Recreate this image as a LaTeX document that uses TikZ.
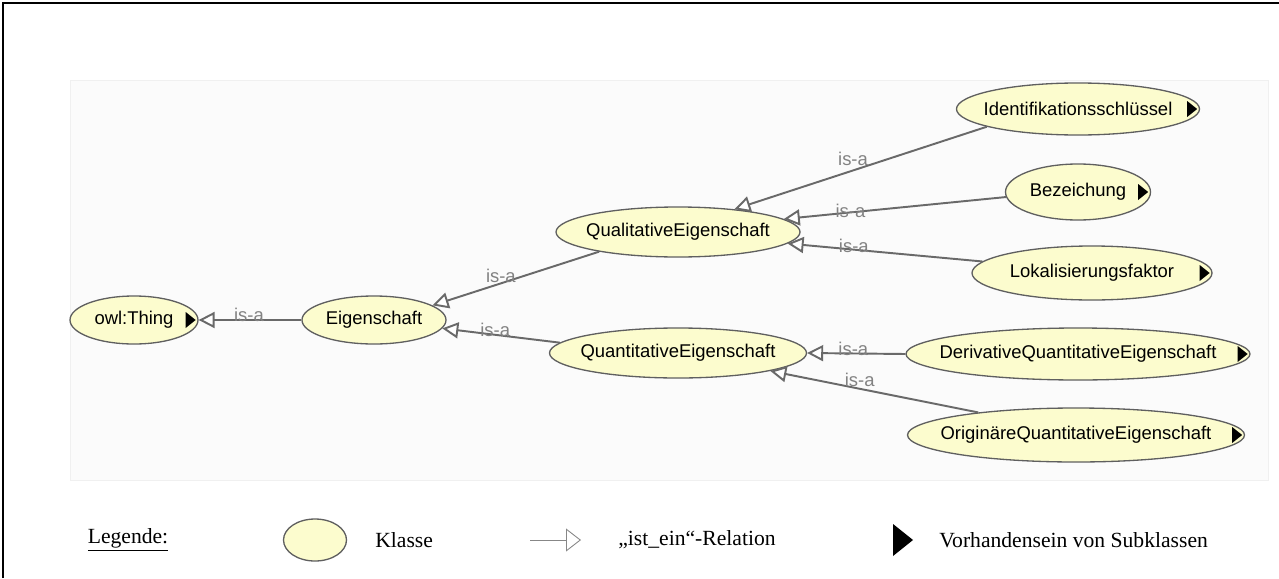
\documentclass[tikz,border=0pt]{standalone}
\usepackage{fontspec}
\setmainfont{Liberation Serif}
\setsansfont{Liberation Sans}
\usetikzlibrary{shapes.geometric,arrows.meta}
\definecolor{klassfill}{RGB}{252,252,206}
\definecolor{klassline}{RGB}{95,95,95}
\definecolor{isaline}{RGB}{105,105,105}
\definecolor{isatext}{RGB}{130,130,130}
\definecolor{panel}{RGB}{251,251,251}
% kleines Dreieck: Klasse hat Subklassen
\newcommand{\subtri}[1]{\fill (#1.east) ++(-13,-8) -- ++(0,16) -- ++(10,-8) -- cycle;}
% Klassenname ohne Einfluss auf die Ellipsengroesse
\newcommand{\kl}[1]{\makebox[0pt]{#1}}

\begin{document}
\begin{tikzpicture}[x=0.2mm, y=-0.2mm,
  cls/.style={ellipse, draw=klassline, fill=klassfill, line width=0.75pt, inner sep=0pt,
    font=\sffamily\fontsize{10.5}{12}\selectfont},
  isa/.style={draw=isaline, line width=1.1pt,
    -{Triangle[open, fill=white, length=3.2mm, width=3.2mm]}},
  lbl/.style={text=isatext, font=\sffamily\fontsize{10.5}{12}\selectfont, inner sep=0pt,
    anchor=base},
  leg/.style={font=\fontsize{12.3}{14}\selectfont, inner sep=0pt}]
\useasboundingbox (0,0) rectangle (1279,578);
\draw[line width=1.1pt] (3,578)--(3,3)--(1279,3);
\draw[draw=black!6, fill=panel] (70,80) rectangle (1268,480);

% Klassen
\node[cls, minimum width=25.6mm, minimum height=9.6mm] (thing) at (134,320) {\kl{owl:Thing}};
\node[cls, minimum width=28.8mm, minimum height=9.6mm] (eig) at (374,320) {\kl{Eigenschaft}};
\node[cls, minimum width=48.8mm, minimum height=10mm] (qual) at (678,232) {\kl{QualitativeEigenschaft}};
\node[cls, minimum width=51.4mm, minimum height=10mm] (quant) at (678,353) {\kl{QuantitativeEigenschaft}};
\node[cls, minimum width=48.6mm, minimum height=10.4mm] (ident) at (1078,109) {\kl{Identifikationsschlüssel}};
\node[cls, minimum width=29mm, minimum height=11.2mm] (bez) at (1078,192) {\kl{Bezeichung}};
\node[cls, minimum width=48mm, minimum height=10.8mm] (lok) at (1092,273) {\kl{Lokalisierungsfaktor}};
\node[cls, minimum width=68.8mm, minimum height=10.4mm] (deriv) at (1078,354) {\kl{DerivativeQuantitativeEigenschaft}};
\node[cls, minimum width=67.4mm, minimum height=10.8mm] (orig) at (1076,435) {\kl{OriginäreQuantitativeEigenschaft}};

\subtri{thing}
\subtri{ident}
\subtri{bez}
\subtri{lok}
\subtri{deriv}
\subtri{orig}

% is-a Kanten
\draw[isa] (eig.180) -- node[lbl, pos=.51, yshift=-.2mm]{is-a} (thing.0);
\draw[isa] (qual.194.5) -- node[lbl, pos=.59, yshift=.2mm]{is-a} (eig.14.5);
\draw[isa] (quant.175.6) -- node[lbl, pos=.55, yshift=-.4mm]{is-a} (eig.353.6);
\draw[isa] (ident.191.3) -- node[lbl, pos=.53, yshift=1mm]{is-a} (qual.22);
\draw[isa] (bez.184) -- node[lbl, pos=.70, yshift=-1mm]{is-a} (qual.7.3);
\draw[isa] (lok.174.6) -- node[lbl, pos=.66, yshift=-.6mm]{is-a} (qual.354.9);
\draw[isa] (deriv.180) -- node[lbl, pos=.53, yshift=-.4mm]{is-a} (quant.0);
\draw[isa] (orig.167.2) -- node[lbl, pos=.57, yshift=.4mm]{is-a} (quant.349);

% Legende
\node[leg] (legtitle) at (128,540) {\underline{Legende:}};
\node[cls, minimum width=12.6mm, minimum height=8.4mm] (legcls) at (315,540) {};
\node[leg, anchor=west] (legklasse) at (375,540) {Klasse};
\coordinate (legA) at (530,540);
\coordinate (legB) at (581,540);
\draw[draw=isaline!80, line width=0.5pt, -{Triangle[open, fill=white, length=3mm, width=4.6mm]}] (legA) -- (legB);
\node[leg, anchor=west] (legrel) at (618,540) {„ist\_ein“-Relation};
\fill (893,524) -- (893,556) -- (913,540) -- cycle;
\node[leg, anchor=west] (legsub) at (939,540) {Vorhandensein von Subklassen};
\end{tikzpicture}
\end{document}
